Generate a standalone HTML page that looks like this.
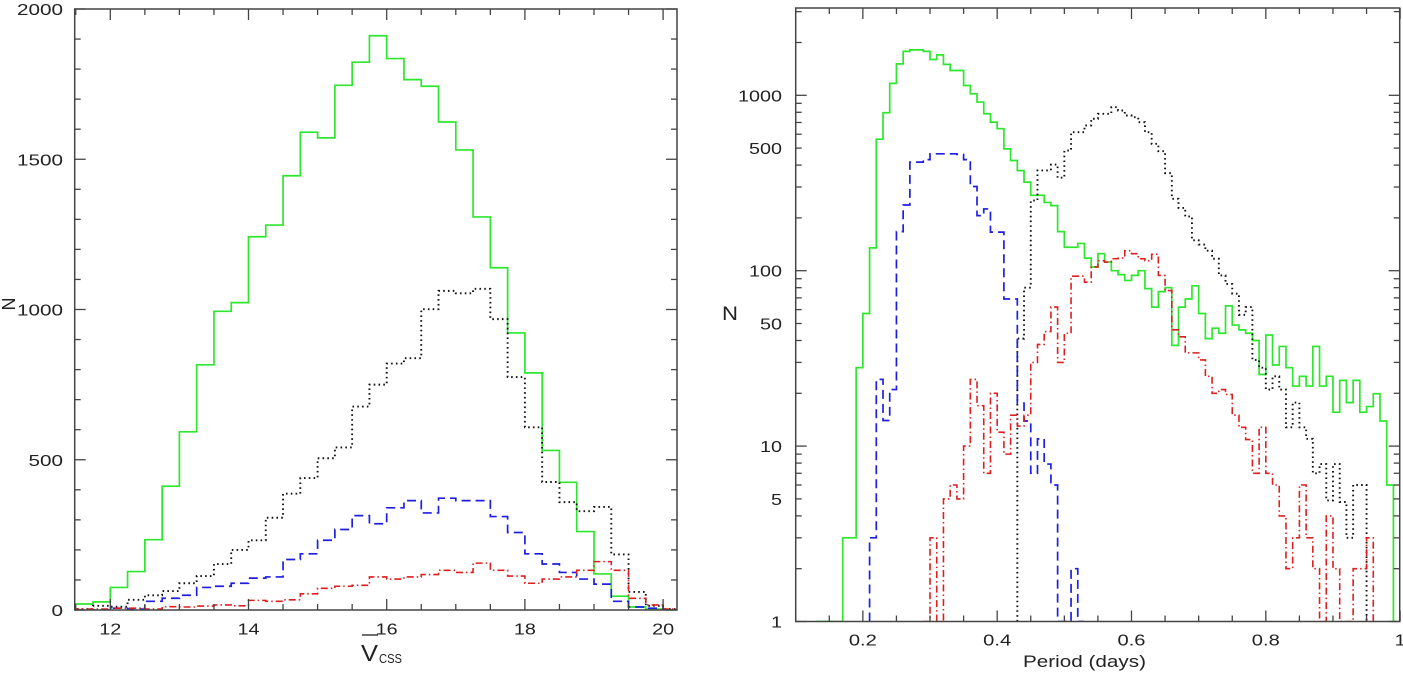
<!DOCTYPE html>
<html><head><meta charset="utf-8"><title>Histograms</title>
<style>
html,body{margin:0;padding:0;background:#fff;}
svg{display:block;}
text{font-family:"Liberation Sans",sans-serif;fill:#222;}
</style></head>
<body>
<svg id="fig" width="1403" height="678" viewBox="0 0 1403 678" xmlns="http://www.w3.org/2000/svg">
  <defs>
    <clipPath id="clipL"><rect x="74.7" y="9" width="602.3" height="601"/></clipPath>
    <clipPath id="clipR"><rect x="795.7" y="8" width="604" height="613.5"/></clipPath>
  </defs>
  <g id="left"></g>
  <g id="right"></g>
  <text x="0" y="0" transform="translate(15,304) rotate(-90)" text-anchor="middle" font-size="18">N</text>
  <text x="361" y="661" font-size="23" textLength="17" lengthAdjust="spacingAndGlyphs">V</text>
  <line x1="362" y1="635" x2="378" y2="635" stroke="#222" stroke-width="1.3"/>
  <text x="379" y="663" font-size="13" textLength="23" lengthAdjust="spacingAndGlyphs">CSS</text>
  <text x="722" y="320" font-size="19" textLength="16" lengthAdjust="spacingAndGlyphs">N</text>
  <text x="1023" y="667" font-size="17" textLength="123" lengthAdjust="spacingAndGlyphs">Period (days)</text>
</svg>
<script>
// ---------- Left panel data (V_css bins, width 0.25, starting 11.25) ----------
const magStart = 11.25;
const magBinWidth = 0.25;
const magGreen = [20,20,27,75,128,234,412,593,816,994,1023,1242,1281,1445,1590,1571,1746,1823,1911,1835,1765,1743,1624,1531,1308,1139,922,789,531,425,261,120,46,10,3,0];
const magBlack = [3,3,14,11,34,49,63,89,113,153,200,232,307,387,439,505,541,677,750,820,838,1001,1062,1054,1069,968,775,608,426,359,329,343,185,60,14,3];
const magBlue = [0,0,0,6,3,29,39,49,75,79,89,106,110,168,187,232,268,314,287,340,364,323,372,364,364,311,258,187,153,125,103,86,29,10,6,0];
const magRed = [3,3,3,6,6,3,11,10,13,17,14,32,29,34,54,72,79,82,110,103,110,118,132,125,156,132,113,89,103,110,132,161,132,39,17,3];
const magTickLabels = ["12","14","16","18","20"];
const nTickLabels = ["0","500","1000","1500","2000"];

// ---------- Right panel data (period bins, width 0.01) ----------
const perBinWidth = 0.01;
const perGreenStart = 0.13;
const perGreen = [1,1,1,1,3,3,28,57,135,562,795,1170,1510,1780,1815,1815,1780,1600,1700,1500,1385,1385,1137,1020,915,785,703,645,495,425,372,320,269,269,245,235,167,136,136,143,118,105,125,112,100,95,88,94,100,79,62,76,80,37.5,62,69,82,57,41,47,44,63,49,46,44,40,25.6,43,29,37,28,22,25,22,37,22,25,15.6,23.7,17.7,23.7,15.6,16.8,19.9,13.9,6];
const perBlueStart = 0.21;
const perBlue = [3,24,14,21,167,237,416,416,430,464,464,464,464,460,430,302,206,225,166,166,69,69,17.6,13.9,7,11,7.9,6,0,0,2,1];
const perBlackStart = 0.43;
const perBlack = [41,80,251,373,373,403,339,484,616,616,673,735,784,784,855,819,767,750,703,616,529,480,360,257,228,204,149,141,130,117,94,84,74,56,62,31,28,21,25,21,12.8,17.7,12.8,11,7,7.9,4.9,7.9,4.8,3,6,6];
const perRedStart = 0.29;
const perRed = [1,3,1,5,6,5,10,24,17,7,20,12,9,15,13,15,30,38,45,62,30,44,93,93,86,105,114,112,117,118,130,125,117,114,124,94,77,46,42,34,34,31,25,20,21,19.7,15,12.8,10.9,7,12.8,7,6,4,2,3,6,3,2,0,4,2,1,1,2,2,3];
const periodTickLabels = ["0.2","0.4","0.6","0.8","1"];
const logTickLabels = ["1","5","10","50","100","500","1000"];

const NS = "http://www.w3.org/2000/svg";
function mk(tag, attrs, parent) {
  const e = document.createElementNS(NS, tag);
  for (const k in attrs) e.setAttribute(k, attrs[k]);
  parent.appendChild(e);
  return e;
}

// ---------- axis functions ----------
const L = {x0: 74.7, x1: 677, y0: 610, y1: 9};
function xMag(v) { return 110.3 + (v - 12) * 69.1; }
function yN(v) { return L.y0 - v * (L.y0 - L.y1) / 2000; }
const R = {x0: 795.7, x1: 1399.7, y0: 621.5, y1: 8};
function xPer(p) { return R.x0 + (p - 0.1) * 671.6; }
function yLog(v) { return R.y0 - 175.4 * Math.log10(Math.max(v, 1)); }

function histPath(start, w, vals, xf, yf, base) {
  let d = "M" + xf(start).toFixed(2) + "," + base.toFixed(2);
  for (let i = 0; i < vals.length; i++) {
    const xa = xf(start + i * w), xb = xf(start + (i + 1) * w), y = yf(vals[i]);
    d += "L" + xa.toFixed(2) + "," + y.toFixed(2) + "L" + xb.toFixed(2) + "," + y.toFixed(2);
  }
  d += "L" + xf(start + vals.length * w).toFixed(2) + "," + base.toFixed(2);
  return d;
}

const styles = {
  green: {stroke: "#2ee62e", "stroke-width": 1.7, fill: "none"},
  black: {stroke: "#111", "stroke-width": 1.9, fill: "none", "stroke-dasharray": "1.6 3.2"},
  blue: {stroke: "#1f1fe0", "stroke-width": 1.7, fill: "none", "stroke-dasharray": "9 5"},
  red: {stroke: "#dd1f1f", "stroke-width": 1.6, fill: "none", "stroke-dasharray": "7 3 1.5 3"}
};

// ---------- Left panel ----------
const gL = document.getElementById("left");
const gLc = mk("g", {"clip-path": "url(#clipL)"}, gL);


[["green", magGreen, "green-solid-histogram"], ["black", magBlack, "black-dotted-histogram"], ["blue", magBlue, "blue-dashed-histogram"], ["red", magRed, "red-dashdot-histogram"]].forEach(s => {
  const p = mk("path", Object.assign({d: histPath(magStart, magBinWidth, s[1], xMag, yN, L.y0)}, styles[s[0]]), gLc);
  
  
});
const frameL = mk("rect", {x: L.x0, y: L.y1, width: L.x1 - L.x0, height: L.y0 - L.y1, fill: "none", stroke: "#444", "stroke-width": 1.5}, gL);


for (let v = 11.5; v <= 20.01; v += 0.5) {
  const x = xMag(v), len = (Math.abs(v / 2 - Math.round(v / 2)) < 1e-6) ? 11 : 6;
  const t1 = mk("line", {x1: x, y1: L.y0, x2: x, y2: L.y0 - len, stroke: "#444", "stroke-width": 1.3}, gL);
  
  
  const t2 = mk("line", {x1: x, y1: L.y1, x2: x, y2: L.y1 + len, stroke: "#444", "stroke-width": 1.3}, gL);
  
  
}
for (let v = 0; v <= 2000; v += 100) {
  const y = yN(v), len = v % 500 === 0 ? 11 : 6;
  const t1 = mk("line", {x1: L.x0, y1: y, x2: L.x0 + len, y2: y, stroke: "#444", "stroke-width": 1.3}, gL);
  
  
  const t2 = mk("line", {x1: L.x1, y1: y, x2: L.x1 - len, y2: y, stroke: "#444", "stroke-width": 1.3}, gL);
  
  
}
magTickLabels.forEach(s => {
  const t = mk("text", {x: xMag(parseFloat(s)), y: 634.5, "text-anchor": "middle", "font-size": 16, textLength: s.length * 11, lengthAdjust: "spacingAndGlyphs"}, gL);
  t.textContent = s;
  
  
});
nTickLabels.forEach(s => {
  const t = mk("text", {x: 63, y: yN(parseFloat(s)) + 6, "text-anchor": "end", "font-size": 16, textLength: s.length * 11.5, lengthAdjust: "spacingAndGlyphs"}, gL);
  t.textContent = s;
  
  
});

// ---------- Right panel ----------
const gR = document.getElementById("right");
const gRc = mk("g", {"clip-path": "url(#clipR)"}, gR);


[["green", perGreenStart, perGreen, "green-solid-histogram"], ["black", perBlackStart, perBlack, "black-dotted-histogram"], ["blue", perBlueStart, perBlue, "blue-dashed-histogram"], ["red", perRedStart, perRed, "red-dashdot-histogram"]].forEach(s => {
  const p = mk("path", Object.assign({d: histPath(s[1], perBinWidth, s[2], xPer, yLog, R.y0)}, styles[s[0]]), gRc);
  
  
});
const frameR = mk("rect", {x: R.x0, y: R.y1, width: R.x1 - R.x0, height: R.y0 - R.y1, fill: "none", stroke: "#444", "stroke-width": 1.5}, gR);


for (let i = 0; i <= 18; i++) {
  const p = 0.1 + i * 0.05, x = xPer(p), len = (i % 4 === 2) ? 11 : 6;
  const t1 = mk("line", {x1: x, y1: R.y0, x2: x, y2: R.y0 - len, stroke: "#444", "stroke-width": 1.3}, gR);
  
  
  const t2 = mk("line", {x1: x, y1: R.y1, x2: x, y2: R.y1 + len, stroke: "#444", "stroke-width": 1.3}, gR);
  
  
}
for (let dec = 1; dec <= 1000; dec *= 10) {
  for (let m = 1; m <= 9; m++) {
    const v = dec * m, y = yLog(v);
    if (y < R.y1) continue;
    const len = m === 1 ? 11 : 6;
    const t1 = mk("line", {x1: R.x0, y1: y, x2: R.x0 + len, y2: y, stroke: "#444", "stroke-width": 1.3}, gR);
    
    
    const t2 = mk("line", {x1: R.x1, y1: y, x2: R.x1 - len, y2: y, stroke: "#444", "stroke-width": 1.3}, gR);
    
    
  }
}
periodTickLabels.forEach(s => {
  const w = s.replace(".", "").length * 11 + (s.indexOf(".") >= 0 ? 6 : 0);
  const t = mk("text", {x: xPer(parseFloat(s)), y: 645.5, "text-anchor": "middle", "font-size": 16, textLength: w, lengthAdjust: "spacingAndGlyphs"}, gR);
  t.textContent = s;
  
  
});
logTickLabels.forEach(s => {
  const t = mk("text", {x: 782, y: yLog(parseFloat(s)) + 6, "text-anchor": "end", "font-size": 16, textLength: s.length * 11, lengthAdjust: "spacingAndGlyphs"}, gR);
  t.textContent = s;
  
  
});
</script>
</body></html>
